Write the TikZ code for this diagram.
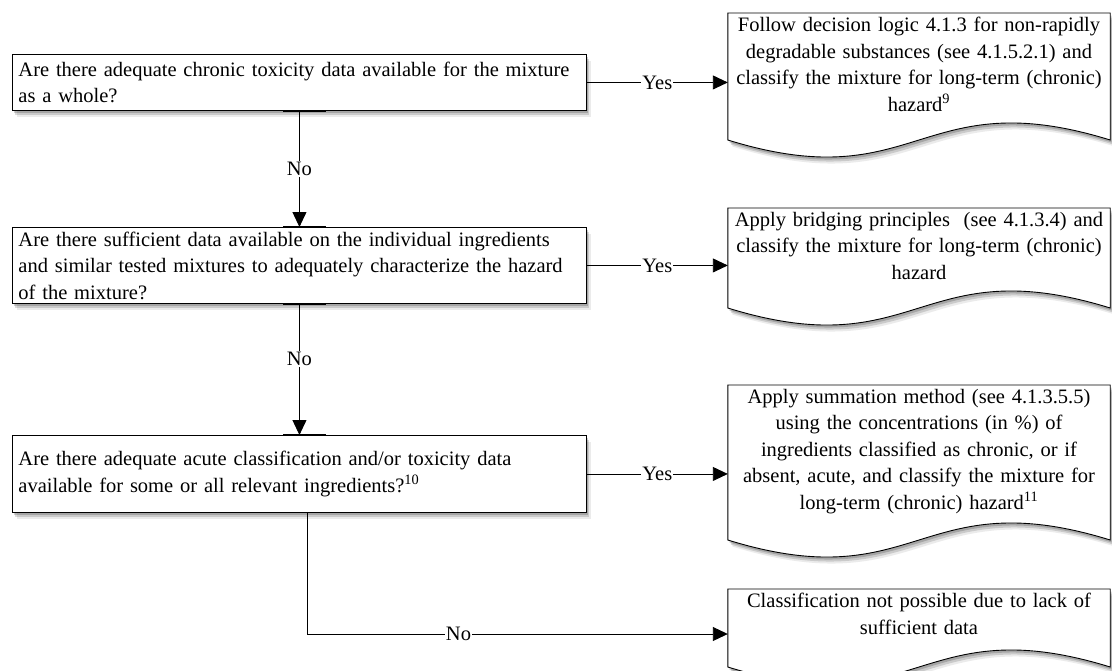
\documentclass[tikz,border=0pt]{standalone}
\usepackage{fontspec}
\setmainfont{Liberation Serif}
\usetikzlibrary{arrows.meta,positioning,shadows,backgrounds}

\newcommand{\flowfont}{\fontsize{20.5}{26.5}\selectfont}

\begin{document}
\begin{tikzpicture}[x=1pt,y=-1pt,>={Triangle[length=15pt,width=14pt]},
  shd/.style={drop shadow={shadow xshift=1.5pt,shadow yshift=-2.5pt,fill=black,opacity=.18},
    drop shadow={shadow xshift=3pt,shadow yshift=-4.5pt,fill=black,opacity=.14},
    drop shadow={shadow xshift=4.5pt,shadow yshift=-6.5pt,fill=black,opacity=.08}},
  qbox/.style={draw,line width=0.9pt,fill=white,shd,anchor=north west,align=left,font=\flowfont,
    inner xsep=6pt,inner ysep=1pt,text width=562pt,minimum width=574pt},
  dbox/.style={anchor=north,align=center,font=\flowfont,inner xsep=4pt,inner ysep=4pt,
    text width=374pt,minimum width=382pt},
  dline/.style={draw,line width=0.9pt,fill=white,shd},
  conn/.style={->,line width=0.9pt},
  bar/.style={line width=2.6pt},
  lbl/.style={font=\flowfont,fill=white,inner sep=1pt}]
\useasboundingbox (0,0) rectangle (1112,670);

% questions
\node[qbox,minimum height=56pt] (Q1) at (12,54) {Are there adequate chronic toxicity data available for the mixture\\ as a whole?};
\node[qbox,minimum height=76pt] (Q2) at (12,227) {Are there sufficient data available on the individual ingredients\\ and similar tested mixtures to adequately characterize the hazard\\ of the mixture?};
\node[qbox,minimum height=77pt] (Q3) at (12,435) {Are there adequate acute classification and/or toxicity data\\ available for some or all relevant ingredients?\textsuperscript{10}};

% outcomes
\node[dbox] (A) at (919,13) {Follow decision logic 4.1.3 for non-rapidly\\ degradable substances (see 4.1.5.2.1) and\\ classify the mixture for long-term (chronic)\\ hazard\textsuperscript{9}};
\node[dbox] (B) at (919,208) {Apply bridging principles~ (see 4.1.3.4) and\\ classify the mixture for long-term (chronic)\\ hazard};
\node[dbox] (C) at (919,385) {Apply summation method (see 4.1.3.5.5)\\ using the concentrations (in \%) of\\ ingredients classified as chronic, or if\\ absent, acute, and classify the mixture for\\ long-term (chronic) hazard\textsuperscript{11}};
\node[dbox] (D) at (919,589) {Classification not possible due to lack of\\ sufficient data};

% document outlines
\begin{scope}[on background layer]
\foreach \n/\yb in {A/140,B/308,C/540,D/667}
  \draw[dline] (\n.north west) -- (\n.north east) -- (\n.east |- 0,\yb)
    .. controls (\n.north |- 0,\yb-59) and (\n.north |- 0,\yb+59) .. (\n.west |- 0,\yb) -- cycle;
\end{scope}

% yes branches
\foreach \q/\d in {Q1/A,Q2/B,Q3/C}
  \draw[conn] (\q.east) -- node[lbl]{Yes} (\q.east -| \d.west);

% no branches
\draw[conn] (Q1.south) -- node[lbl]{No} (Q2.north);
\draw[conn] (Q2.south) -- node[lbl,pos=0.42]{No} (Q3.north);
\foreach \a in {Q1.south,Q2.north,Q2.south,Q3.north}
  \draw[bar] ([xshift=-16pt]\a) -- ([xshift=27pt]\a);
\coordinate (nocorner) at (307,634);
\draw[conn] (Q3.south -| nocorner) -- (nocorner) -- node[lbl,pos=0.36]{No} (nocorner -| D.west);
\end{tikzpicture}
\end{document}
